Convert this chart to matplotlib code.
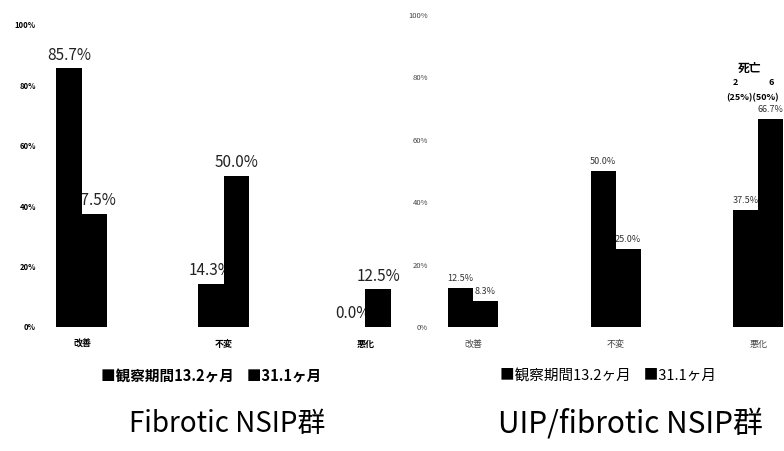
import matplotlib.pyplot as plt
import numpy as np

plt.rcParams['font.family'] = ['Noto Sans CJK JP', 'DejaVu Sans']

categories = ['改善', '不変', '悪化']
series_names = ['観察期間13.2ヶ月', '31.1ヶ月']

# Fibrotic NSIP group
nsip_short = [85.7, 14.3, 0.0]
nsip_long = [37.5, 50.0, 12.5]

# UIP/fibrotic NSIP group
uip_short = [12.5, 50.0, 37.5]
uip_long = [8.3, 25.0, 66.7]

y_ticks = [0, 20, 40, 60, 80, 100]
y_tick_labels = ['0%', '20%', '40%', '60%', '80%', '100%']

W, H = 784, 451
fig = plt.figure(figsize=(W / 100, H / 100), dpi=100)


def px_axes(left, top, right, bottom):
    return fig.add_axes([left / W, 1 - bottom / H, (right - left) / W, (bottom - top) / H])


def draw_panel(ax, short, long_, width, label_size, label_color, tick_color,
               tick_size, tick_weight, cat_weight):
    x = np.arange(len(categories))
    # labels go under the bars so a neighbouring bar can cover them
    for xi, v in zip(x - width / 2, short):
        ax.text(xi, v + 1.5, f'{v:.1f}%', ha='center', va='bottom',
                fontsize=label_size, color=label_color, zorder=1)
    for xi, v in zip(x + width / 2, long_):
        ax.text(xi, v + 1.5, f'{v:.1f}%', ha='center', va='bottom',
                fontsize=label_size, color=label_color, zorder=1)
    ax.bar(x - width / 2, short, width, color='black', zorder=2)
    ax.bar(x + width / 2, long_, width, color='black', zorder=2)
    ax.set_ylim(0, 100)
    ax.set_yticks(y_ticks)
    ax.set_yticklabels(y_tick_labels, fontsize=tick_size, color=tick_color,
                       fontweight=tick_weight)
    ax.set_xticks(x)
    ax.set_xticklabels(categories, fontsize=6.5, fontweight=cat_weight,
                       color=tick_color)
    ax.tick_params(length=0)
    ax.tick_params(axis='y', pad=3)
    ax.tick_params(axis='x', pad=9)
    for s in ax.spines.values():
        s.set_visible(False)
    ax.patch.set_alpha(0)


# left panel: centres at 82/224/365 px
ax1 = px_axes(40, 25, 398, 327)
ax1.set_xlim(-0.296, 2.23)
draw_panel(ax1, nsip_short, nsip_long, 0.18, 11, '#222222', 'black', 5.5,
           'bold', 'bold')

# right panel: centres at 473/616/758 px
ax2 = px_axes(432, 15, 784, 327)
ax2.set_xlim(-0.287, 2.18)
draw_panel(ax2, uip_short, uip_long, 0.175, 6.5, '#333333', '#444444', 5.5,
           'normal', 'normal')

# deaths note above the worsened group
ax2.text(1.94, 83, '死亡', ha='center', va='center', fontsize=8.5, fontweight='bold')
ax2.text(1.84, 78.5, '2', ha='center', va='center', fontsize=6.5, fontweight='bold')
ax2.text(2.09, 78.5, '6', ha='center', va='center', fontsize=6.5, fontweight='bold')
ax2.text(1.96, 73.4, '(25%)(50%)', ha='center', va='center', fontsize=6.5,
         fontweight='bold')

# legends
legend_text = f'■{series_names[0]}    ■{series_names[1]}'
fig.text(211 / W, 1 - 376 / H, legend_text, ha='center', va='center',
         fontsize=10.5, fontweight='bold')
fig.text(608 / W, 1 - 376 / H, legend_text, ha='center', va='center',
         fontsize=10.5)

# group titles
fig.text(227 / W, 1 - 424 / H, 'Fibrotic NSIP群', ha='center', va='center',
         fontsize=20)
fig.text(630 / W, 1 - 424 / H, 'UIP/fibrotic NSIP群', ha='center', va='center',
         fontsize=21.5)

fig.savefig('out.png', dpi=100)
